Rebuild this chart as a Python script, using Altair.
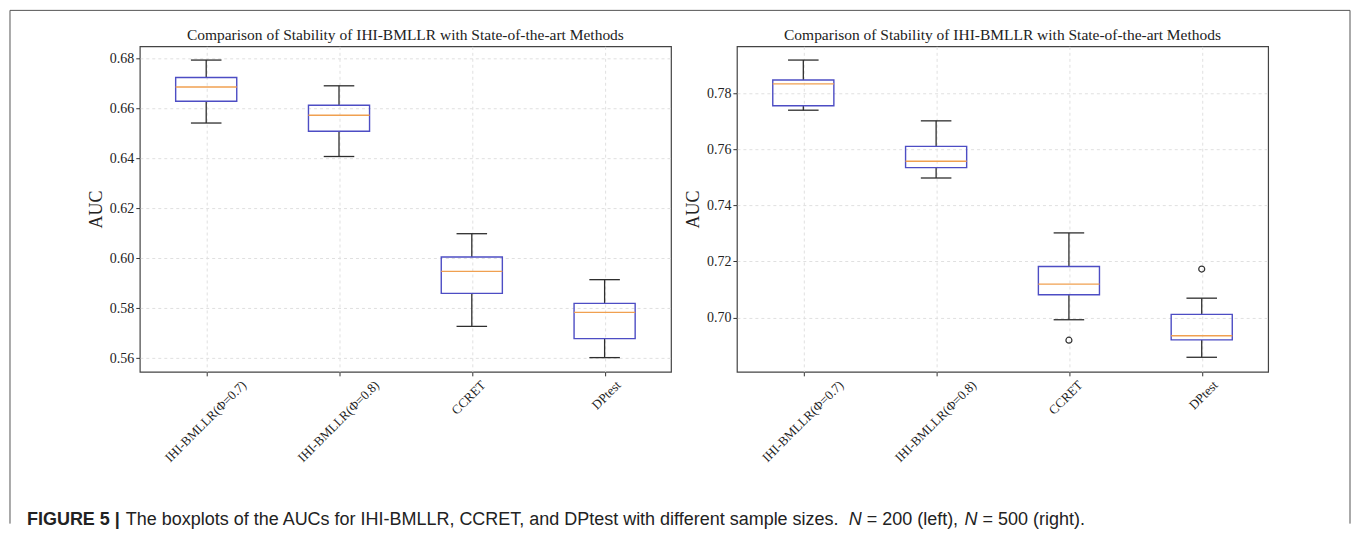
import altair as alt
import pandas as pd

# ---------------- data ----------------
categories = ["IHI-BMLLR(Φ=0.7)", "IHI-BMLLR(Φ=0.8)", "CCRET", "DPtest"]
positions = [1, 2, 3, 4]

left_low = [0.6542, 0.6408, 0.5728, 0.5603]
left_q1 = [0.6629, 0.6509, 0.5860, 0.5679]
left_med = [0.6686, 0.6573, 0.5948, 0.5784]
left_q3 = [0.6724, 0.6613, 0.6006, 0.5820]
left_high = [0.6794, 0.6691, 0.6099, 0.5915]

right_low = [0.7740, 0.7498, 0.6992, 0.6858]
right_q1 = [0.7756, 0.7535, 0.7081, 0.6920]
right_med = [0.7834, 0.7558, 0.7119, 0.6935]
right_q3 = [0.7848, 0.7611, 0.7182, 0.7011]
right_high = [0.7919, 0.7702, 0.7302, 0.7069]

right_outlier_pos = [3, 4]
right_outlier_val = [0.6919, 0.7173]

left_ticks = [0.56, 0.58, 0.60, 0.62, 0.64, 0.66, 0.68]
right_ticks = [0.70, 0.72, 0.74, 0.76, 0.78]
left_domain = [0.5546, 0.6849]
right_domain = [0.6806, 0.7968]

title_text = "Comparison of Stability of IHI-BMLLR with State-of-the-art Methods"
caption_bold = "FIGURE 5 |"
caption_main = "The boxplots of the AUCs for IHI-BMLLR, CCRET, and DPtest with different sample sizes."
caption_n = "N"
caption_n1 = "= 200 (left),"
caption_n2 = "= 500 (right)."

# ---------------- style ----------------
SERIF = "Liberation Serif"
SANS = "Liberation Sans"
W, H = 532, 326
BOX = "#4d4dc4"
MED = "#f0a050"
WHISK = "#2e2e2e"
GRID = "#e0e0e0"

one = alt.Chart(pd.DataFrame({"a": [0]}))


def make_df(low, q1, med, q3, high):
    return pd.DataFrame({"cat": categories, "pos": positions, "lo": low, "q1": q1,
                         "med": med, "q3": q3, "hi": high})


def panel(df, out_df, domain, ticks, decorations=None):
    xs = alt.Scale(domain=[0.5, 4.5], nice=False, zero=False)
    ys = alt.Scale(domain=domain, nice=False, zero=False)
    xax = alt.Axis(values=positions, labels=False, title=None, grid=True, ticks=True,
                   tickSize=4, domain=False, gridColor=GRID, gridDash=[3, 3],
                   tickColor="#333")
    yax = alt.Axis(values=ticks, format=".2f", title="AUC", grid=True, gridColor=GRID,
                   gridDash=[3, 3], tickSize=4, labelPadding=2, domain=False,
                   tickColor="#333", labelFont=SERIF, labelFontSize=14, labelColor="#222",
                   titleFont=SERIF, titleFontSize=18, titleFontWeight="normal",
                   titleColor="#222", titleX=-43, titleY=H / 2, titleAngle=270,
                   titleAlign="center", titleBaseline="middle")

    def X(f):
        return alt.X(f, type="quantitative", scale=xs, axis=xax)

    def Y(f):
        return alt.Y(f, type="quantitative", scale=ys, axis=yax)

    base = alt.Chart(df).transform_calculate(
        b1="datum.pos - 0.23", b2="datum.pos + 0.23",
        c1="datum.pos - 0.115", c2="datum.pos + 0.115",
        lx="datum.pos + (2.4 * length(datum.cat) - 4.5) / 133",
    )
    w_lo = base.mark_rule(color=WHISK, strokeWidth=1.3).encode(x=X("pos"), y=Y("lo"), y2="q1:Q")
    w_hi = base.mark_rule(color=WHISK, strokeWidth=1.3).encode(x=X("pos"), y=Y("q3"), y2="hi:Q")
    cap_lo = base.mark_rule(color=WHISK, strokeWidth=1.3).encode(x=X("c1"), x2="c2:Q", y=Y("lo"))
    cap_hi = base.mark_rule(color=WHISK, strokeWidth=1.3).encode(x=X("c1"), x2="c2:Q", y=Y("hi"))
    box = base.mark_rect(fillOpacity=0, stroke=BOX, strokeWidth=1.4).encode(
        x=X("b1"), x2="b2:Q", y=Y("q1"), y2="q3:Q")
    med = base.mark_rule(color=MED, strokeWidth=1.4).encode(x=X("b1"), x2="b2:Q", y=Y("med"))
    labels = base.mark_text(angle=315, align="right", baseline="top", font=SERIF,
                            fontSize=13, color="#222").encode(
        x=X("lx"), y=alt.value(H + 7), text="cat:N")
    title = one.mark_text(font=SERIF, fontSize=15.5, color="#222", align="center",
                          baseline="middle").encode(
        x=alt.value(W / 2), y=alt.value(-11), text=alt.value(title_text))
    layers = [w_lo, w_hi, cap_lo, cap_hi, box, med, labels, title]
    if out_df is not None:
        pts = alt.Chart(out_df).mark_point(shape="circle", filled=False, color="#333",
                                           size=36, strokeWidth=1.2, opacity=1).encode(
            x=X("pos"), y=Y("val"))
        layers.append(pts)
    if decorations:
        layers.extend(decorations)
    return alt.layer(*layers).properties(width=W, height=H)


BORDER = "#555555"
border = [
    one.mark_rule(color=BORDER, strokeWidth=1).encode(x=alt.value(-130), y=alt.value(-36), y2=alt.value(478)),
    one.mark_rule(color=BORDER, strokeWidth=1).encode(x=alt.value(1212), y=alt.value(-36), y2=alt.value(478)),
    one.mark_rule(color=BORDER, strokeWidth=1).encode(x=alt.value(-130), x2=alt.value(1212), y=alt.value(-36)),
]
CY = 474
caption = [
    one.mark_text(font=SANS, fontSize=18, fontWeight="bold", align="left", baseline="middle",
                  color="#222").encode(x=alt.value(-113), y=alt.value(CY), text=alt.value(caption_bold)),
    one.mark_text(font=SANS, fontSize=18, align="left", baseline="middle",
                  color="#222").encode(x=alt.value(-14), y=alt.value(CY), text=alt.value(caption_main)),
    one.mark_text(font=SANS, fontSize=18, fontStyle="italic", align="left", baseline="middle",
                  color="#222").encode(x=alt.value(710), y=alt.value(CY), text=alt.value(caption_n)),
    one.mark_text(font=SANS, fontSize=18, align="left", baseline="middle",
                  color="#222").encode(x=alt.value(728), y=alt.value(CY), text=alt.value(caption_n1)),
    one.mark_text(font=SANS, fontSize=18, fontStyle="italic", align="left", baseline="middle",
                  color="#222").encode(x=alt.value(826), y=alt.value(CY), text=alt.value(caption_n)),
    one.mark_text(font=SANS, fontSize=18, align="left", baseline="middle",
                  color="#222").encode(x=alt.value(844), y=alt.value(CY), text=alt.value(caption_n2)),
]

left_df = make_df(left_low, left_q1, left_med, left_q3, left_high)
right_df = make_df(right_low, right_q1, right_med, right_q3, right_high)
right_out = pd.DataFrame({"pos": right_outlier_pos, "val": right_outlier_val})

left = panel(left_df, None, left_domain, left_ticks, border + caption)
right = panel(right_df, right_out, right_domain, right_ticks)

chart = alt.hconcat(left, right, spacing=66, bounds="flush").properties(
    padding=0, background="white"
).configure_view(stroke="#444", strokeWidth=1.2)

chart.save("out.html", embed_options={"renderer": "svg", "actions": False})
